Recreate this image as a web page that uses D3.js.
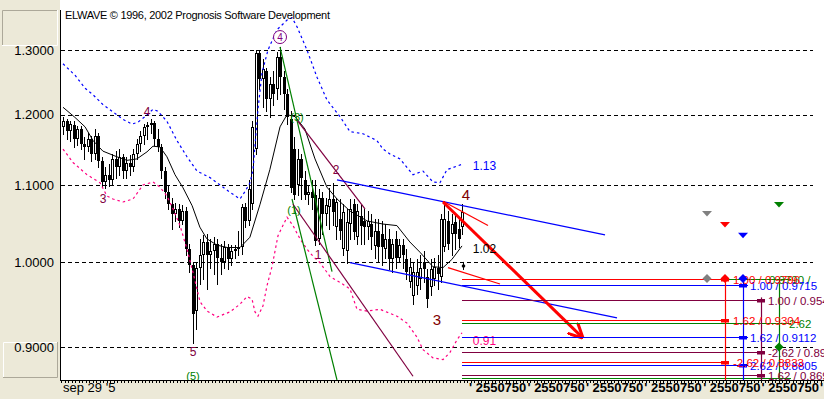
<!DOCTYPE html>
<html><head><meta charset="utf-8">
<script src="https://cdn.jsdelivr.net/npm/d3@7"></script>
<style>
body{margin:0;background:#fff;}
svg{display:block;font-family:"Liberation Sans",Arial,sans-serif;}
</style></head><body>
<svg id="c" width="824" height="399"></svg>
<script>
// ---------------- DATA ----------------
const title = "ELWAVE \u00A9 1996, 2002 Prognosis Software Development";
const yTicks = [0.9, 1.0, 1.1, 1.2, 1.3];
const xTickIdx = [0, 116, 132.7, 149.4, 166.1, 182.9, 199.6, 216.3];
const xTickText = ["sep 29 '5", "' 2550750", "' 2550750", "' 2550750", "' 2550750", "' 2550750", "' 2550750", "' 2"];

const opens = [1.182,1.190,1.176,1.184,1.164,1.179,1.157,1.153,1.164,1.143,
1.169,1.133,1.104,1.113,1.107,1.136,1.124,1.139,1.119,1.130,
1.124,1.143,1.157,1.169,1.182,1.184,1.187,1.164,1.153,1.119,
1.091,1.074,1.061,1.068,1.052,1.065,1.016,0.996,0.941,0.993,
1.009,1.025,1.009,1.013,1.022,1.005,1.000,1.018,1.003,1.013,
1.016,1.018,1.070,1.052,1.074,1.150,1.295,1.254,1.266,1.223,
1.246,1.239,1.289,1.257,1.231,1.193,1.150,1.100,1.136,1.107,
1.087,1.091,1.086,1.029,1.083,1.061,1.070,1.081,1.044,1.055,
1.016,1.013,1.048,1.074,1.031,1.059,1.052,1.044,1.048,1.020,
1.039,1.035,1.016,1.029,1.003,1.029,1.005,1.021,1.003,0.976,
0.959,0.971,0.979,1.000,0.981,0.969,0.979,0.993,0.981,1.018,
1.052,1.035,1.051,1.042,1.044];
const highs = [1.196,1.194,1.190,1.190,1.183,1.183,1.167,1.173,1.169,1.179,
1.173,1.139,1.124,1.129,1.143,1.147,1.150,1.143,1.139,1.141,
1.150,1.164,1.176,1.186,1.189,1.193,1.190,1.179,1.157,1.124,
1.099,1.083,1.075,1.074,1.073,1.070,1.022,1.000,1.000,1.029,
1.034,1.035,1.029,1.031,1.029,1.022,1.026,1.023,1.021,1.021,
1.039,1.074,1.075,1.107,1.190,1.300,1.300,1.285,1.272,1.257,
1.266,1.297,1.305,1.266,1.239,1.205,1.167,1.150,1.143,1.119,
1.100,1.107,1.107,1.094,1.090,1.083,1.096,1.103,1.083,1.081,
1.074,1.068,1.081,1.081,1.074,1.073,1.068,1.065,1.061,1.055,
1.055,1.052,1.048,1.042,1.029,1.039,1.029,1.029,1.016,1.005,
1.000,1.003,1.009,1.013,0.991,1.003,1.005,1.009,1.061,1.078,
1.065,1.061,1.061,1.055,1.074];
const lows = [1.172,1.164,1.162,1.153,1.156,1.150,1.136,1.147,1.133,1.136,
1.124,1.099,1.096,1.099,1.101,1.110,1.113,1.110,1.110,1.113,
1.119,1.136,1.147,1.157,1.164,1.173,1.156,1.147,1.110,1.083,
1.068,1.042,1.052,1.044,1.048,1.009,0.988,0.904,0.920,0.973,
0.979,0.967,0.993,0.985,0.973,0.985,0.993,0.991,0.996,1.005,
1.008,1.010,1.044,1.047,1.068,1.143,1.239,1.211,1.205,1.196,
1.215,1.223,1.231,1.208,1.186,1.091,1.081,1.087,1.081,1.081,
1.074,1.068,1.021,1.022,1.035,1.047,1.042,1.047,1.029,1.029,
1.009,0.999,1.029,1.029,1.022,1.022,1.022,1.029,1.016,1.005,
1.000,0.996,1.005,0.991,0.988,0.993,1.000,0.993,0.979,0.969,
0.949,0.961,0.967,0.976,0.946,0.960,0.972,0.967,0.976,1.013,
1.016,1.009,1.016,1.018,1.035];
const closes = [1.190,1.176,1.186,1.164,1.179,1.157,1.153,1.164,1.143,1.169,
1.133,1.104,1.113,1.107,1.136,1.124,1.139,1.119,1.130,1.124,
1.143,1.157,1.169,1.182,1.184,1.187,1.164,1.153,1.119,1.091,
1.074,1.061,1.068,1.052,1.065,1.016,0.996,0.937,0.993,1.009,
1.025,1.009,1.013,1.022,1.005,1.000,1.018,1.003,1.013,1.016,
1.018,1.070,1.052,1.094,1.182,1.295,1.254,1.269,1.223,1.246,
1.231,1.289,1.257,1.231,1.196,1.096,1.087,1.136,1.110,1.087,
1.091,1.083,1.026,1.083,1.061,1.073,1.081,1.064,1.077,1.039,
1.064,1.051,1.068,1.038,1.065,1.046,1.044,1.052,1.031,1.039,
1.018,1.018,1.029,1.003,1.022,1.005,1.021,1.008,0.988,0.994,
0.987,0.988,0.993,0.991,0.955,0.991,0.994,0.985,1.055,1.055,
1.022,1.048,1.035,1.029,1.064];

// moving average (black)
const maIdx = [0,3.4,6.3,8.6,11.4,15.4,18.3,21.1,24.0,25.7,27.7,29.7,32.0,34.3,36.9,39.1,41.1,44.0,46.9,50.6,53.4,56.3,59.1,62.0,64.0,66.3,69.1,72.0,75.4,78.3,82.0,86.9,91.4,95.4,99.1,102.0,105.7,108.6,111.1,114.0];
const maVal = [1.211,1.196,1.182,1.162,1.147,1.139,1.134,1.136,1.146,1.154,1.153,1.139,1.114,1.096,1.072,1.044,1.029,1.021,1.018,1.018,1.031,1.074,1.121,1.182,1.200,1.197,1.179,1.136,1.097,1.081,1.065,1.052,1.048,1.046,1.025,1.012,0.994,0.993,1.003,1.020];
// upper envelope (blue dotted)
const upIdx = [0,3.43,6.29,8.57,11.43,14.29,17.14,19.71,21.43,23.43,25.71,27.14,29.71,32.57,35.43,38.29,42.0,44.86,47.71,50.57,52.0,53.43,54.29,55.71,56.86,58.57,61.14,64.0,65.43,66.86,69.71,72.57,75.43,79.14,82.0,85.71,89.71,91.43,93.4,96.29,100.0,102.86,105.71,107.71,109.71,112.57,114.29];
const upVal = [1.278,1.260,1.240,1.230,1.215,1.204,1.193,1.186,1.189,1.197,1.208,1.205,1.190,1.162,1.139,1.119,1.110,1.100,1.090,1.081,1.091,1.103,1.121,1.208,1.264,1.300,1.333,1.349,1.353,1.338,1.300,1.257,1.222,1.197,1.175,1.172,1.162,1.150,1.143,1.136,1.114,1.119,1.104,1.103,1.121,1.126,1.129];
// lower envelope (pink dotted)
const loIdx = [0,2.86,6.86,10.57,12.57,14.29,17.14,20.0,22.86,25.71,27.71,29.71,31.43,33.43,35.43,37.14,39.14,41.14,44.0,47.71,50.57,52.57,54.0,54.86,55.71,57.14,58.29,59.71,61.43,64.0,65.71,67.71,69.71,71.43,73.43,76.29,79.14,82.0,84.0,86.86,90.57,95.43,98.29,101.14,102.86,105.71,108.57,110.57,112.57,114.0];
const loVal = [1.150,1.131,1.114,1.103,1.085,1.081,1.077,1.081,1.100,1.104,1.097,1.085,1.068,1.046,1.016,0.987,0.952,0.941,0.934,0.940,0.949,0.958,0.955,0.940,0.935,0.947,0.971,0.994,1.033,1.057,1.046,1.029,1.016,1.007,0.999,0.982,0.975,0.967,0.943,0.941,0.943,0.935,0.927,0.911,0.897,0.888,0.886,0.894,0.908,0.916];

// trend lines [idx1, val1, idx2, val2]
const greenLines = [[62.0,1.305,76.86,0.988],[65.43,1.081,78.29,0.864]];
const maroonLines = [[65.71,1.074,100.0,0.868],[66.86,1.192,86.29,1.068]];
const blueLines = [[78.29,1.107,154.86,1.034],[82.0,0.999,158.29,0.933]];
const redThinLines = [[108.57,1.078,121.43,1.046],[110.0,0.993,124.86,0.973]];
const redArrow = [108.57,1.077,148.29,0.911];

// wave labels
const waveSmallText = ["4","3","5","1","2"];
const waveSmallIdx = [24.0,11.43,37.14,72.86,78.0];
const waveSmallVal = [1.204,1.081,0.8946,1.0087,1.1206];
const waveBigText = ["3","4"];
const waveBigIdx = [106.86,115.14];
const waveBigVal = [0.9307,1.0864];
const circledText = ["(3)","(1)","(5)"];
const circledIdx = [66.86,66.0,37.14];
const circledVal = [1.197,1.0665,0.868];
const circle4 = [62.0,1.321];
const projText = ["1.13","1.02","0.91"];
const projTextVal = [1.126,1.016,0.9068];
const lastMark = [114.3,0.995];

// right-side projections
const levelStartIdx = 114;
const colIdx = {gray:184, red:189.14, blue:194.29, maroon:199.43, green:204.57};
const targetVal = {gray:1.065, red:1.0507, blue:1.0366, green:1.0771};
const diamondVal = 0.9796;
const redLevels = [0.9796,0.9304,0.8833];
const redLabels = ["1.00 / 0.9796","1.62 / 0.9304","-2.62 / 0.8833"];
const blueLevels = [0.9715,0.9112,0.8805];
const blueLabels = ["1.00 / 0.9715","1.62 / 0.9112","2.62 / 0.8805"];
const maroonLevels = [0.954,0.8946,0.8695];
const maroonLabels = ["1.00 / 0.9540","-2.62 / 0.8946","1.62 / 0.8695"];
const greenLevels = [0.9790,0.9273,0.866];
const greenLabels = ["0.9790 /","2.62",""];
const greenDiamondVal = 0.9;

// ---------------- DRAW ----------------
const svg = d3.select('#c');
const x = d3.scaleLinear().domain([0,114]).range([63,462]);
const y = d3.scaleLog().domain([0.9,1.3]).range([347,50]);
const BEIGE = '#ECE9D8';
const MAROON = '#800040';
const C = {red:'#FF0000', blue:'#0000FF', green:'#008000', maroon:MAROON, gray:'#808080'};

svg.append('rect').attr('width',824).attr('height',399).attr('fill','#fff');
svg.append('rect').attr('x',0).attr('y',0).attr('width',60).attr('height',399).attr('fill',BEIGE);
svg.append('rect').attr('x',60).attr('y',381).attr('width',764).attr('height',18).attr('fill',BEIGE);

// left boxes
function box(x0,y0,w,h,tl,br){
  const g=svg.append('g');
  g.append('rect').attr('x',x0).attr('y',y0).attr('width',w).attr('height',h).attr('fill',BEIGE);
  g.append('path').attr('d',`M${x0+0.5},${y0+h}V${y0+0.5}H${x0+w}`).attr('stroke',tl).attr('fill','none');
  g.append('path').attr('d',`M${x0+w-0.5},${y0}V${y0+h-0.5}H${x0}`).attr('stroke',br).attr('fill','none');
}
box(2,10,56,36,'#ACA899','#ffffff');
box(3,342,55,36,'#ffffff','#ACA899');

// clip
svg.append('clipPath').attr('id','pc').append('rect').attr('x',61).attr('y',0).attr('width',763).attr('height',380);
const plot = svg.append('g').attr('clip-path','url(#pc)');

// grid
plot.selectAll('.grid').data(yTicks).enter().append('line')
  .attr('x1',61).attr('x2',813)
  .attr('y1',d=>Math.round(y(d))+0.5).attr('y2',d=>Math.round(y(d))+0.5)
  .attr('stroke','#000').attr('stroke-dasharray','4,3');

// title
svg.append('text').attr('x',65).attr('y',19).attr('font-size',11).attr('fill','#000')
  .attr('textLength',265).attr('lengthAdjust','spacing').text(title);

// candles
const cg = plot.append('g');
opens.forEach((o,i)=>{
  const cx = Math.round(x(i));
  cg.append('line').attr('x1',cx+0.5).attr('x2',cx+0.5)
    .attr('y1',Math.round(y(highs[i]))).attr('y2',Math.round(y(lows[i]))+1)
    .attr('stroke','#000').attr('stroke-width',1);
});
opens.forEach((o,i)=>{
  const c = closes[i];
  const cx = Math.round(x(i));
  const top = Math.round(y(Math.max(o,c)));
  const bot = Math.round(y(Math.min(o,c)));
  const h = Math.max(1,bot-top);
  if(c < o){
    cg.append('rect').attr('x',cx-1).attr('y',top).attr('width',3).attr('height',h).attr('fill','#000');
  } else {
    cg.append('rect').attr('x',cx-0.5).attr('y',top+0.5).attr('width',2).attr('height',Math.max(1,h-1))
      .attr('fill','#fff').attr('stroke','#000').attr('stroke-width',1);
  }
});

// envelopes & MA
const ln = d3.line().x(d=>x(d[0])).y(d=>y(d[1]));
plot.append('path').attr('d',ln(upIdx.map((d,i)=>[d,upVal[i]]))).attr('fill','none')
  .attr('stroke','#0000FF').attr('stroke-width',1.2).attr('stroke-dasharray','2.5,3');
plot.append('path').attr('d',ln(loIdx.map((d,i)=>[d,loVal[i]]))).attr('fill','none')
  .attr('stroke','#FF0080').attr('stroke-width',1.2).attr('stroke-dasharray','2.5,3');
plot.append('path').attr('d',ln(maIdx.map((d,i)=>[d,maVal[i]]))).attr('fill','none')
  .attr('stroke','#000').attr('stroke-width',1);

// trend lines
function seg(arr,color,w){
  arr.forEach(s=>{
    plot.append('line').attr('x1',x(s[0])).attr('y1',y(s[1])).attr('x2',x(s[2])).attr('y2',y(s[3]))
      .attr('stroke',color).attr('stroke-width',w);
  });
}
seg(greenLines,'#008000',1.2);
seg(maroonLines,MAROON,1.2);
seg(blueLines,'#0000FF',1.3);
seg(redThinLines,'#FF0000',1.2);

// arrow
const defs = svg.append('defs');
defs.append('marker').attr('id','ah').attr('viewBox','0 0 10 10').attr('refX',9).attr('refY',5)
  .attr('markerWidth',5).attr('markerHeight',5).attr('orient','auto')
  .append('path').attr('d','M0,0L10,5L0,10').attr('fill','none').attr('stroke','#FF0000').attr('stroke-width',2);
plot.append('line').attr('x1',x(redArrow[0])).attr('y1',y(redArrow[1])).attr('x2',x(redArrow[2])).attr('y2',y(redArrow[3]))
  .attr('stroke','#FF0000').attr('stroke-width',3).attr('marker-end','url(#ah)');

// last price marker
plot.append('line').attr('x1',Math.round(x(lastMark[0]))+0.5).attr('x2',Math.round(x(lastMark[0]))+0.5)
  .attr('y1',y(lastMark[1])-4).attr('y2',y(lastMark[1])+4).attr('stroke','#000');
plot.append('circle').attr('cx',Math.round(x(lastMark[0]))+0.5).attr('cy',y(lastMark[1])).attr('r',1.8).attr('fill','#000');

// wave labels
waveSmallText.forEach((t,i)=>{
  plot.append('text').attr('x',x(waveSmallIdx[i])).attr('y',y(waveSmallVal[i]))
    .attr('text-anchor','middle').attr('dominant-baseline','central')
    .attr('font-size',12).attr('fill',MAROON).text(t);
});
waveBigText.forEach((t,i)=>{
  plot.append('text').attr('x',x(waveBigIdx[i])).attr('y',y(waveBigVal[i]))
    .attr('text-anchor','middle').attr('dominant-baseline','central')
    .attr('font-size',15).attr('fill','#800000').text(t);
});
circledText.forEach((t,i)=>{
  plot.append('text').attr('x',x(circledIdx[i])).attr('y',y(circledVal[i]))
    .attr('text-anchor','middle').attr('dominant-baseline','central')
    .attr('font-size',11).attr('fill','#008000').text(t);
});
plot.append('circle').attr('cx',x(circle4[0])).attr('cy',y(circle4[1])).attr('r',6.5)
  .attr('fill','#fff').attr('stroke','#800080');
plot.append('text').attr('x',x(circle4[0])).attr('y',y(circle4[1])).attr('text-anchor','middle')
  .attr('dominant-baseline','central').attr('font-size',10).attr('fill','#800080').text('4');

const projColors = ['#0000FF','#000000','#FF0080'];
projText.forEach((t,i)=>{
  plot.append('text').attr('x',x(117.1)).attr('y',y(projTextVal[i])).attr('dominant-baseline','central')
    .attr('font-size',12).attr('fill',projColors[i]).text(t);
});

// right side projection levels
const x0 = x(levelStartIdx);
function levels(vals,name,endOff,markW){
  const col = x(colIdx[name]);
  vals.forEach((v,i)=>{
    const yy = Math.round(y(v))+0.5;
    plot.append('line').attr('x1',x0).attr('x2',col+endOff).attr('y1',yy).attr('y2',yy)
      .attr('stroke',C[name]).attr('stroke-width',1.2);
    if(markW) plot.append('rect').attr('x',col-markW/2).attr('y',yy-1.5).attr('width',markW).attr('height',3.5).attr('fill',C[name]);
  });
}
function levelLabels(vals,labels,name,offs){
  const col = x(colIdx[name]);
  vals.forEach((v,i)=>{
    if(!labels[i]) return;
    plot.append('text').attr('x',col+offs[i]).attr('y',Math.round(y(v))+0.5).attr('dominant-baseline','central')
      .attr('font-size',11.5).attr('fill',C[name]).text(labels[i]);
  });
}
levels(greenLevels,'green',12,0);
levels(maroonLevels,'maroon',4,8);
levels(blueLevels,'blue',5,8);
levels(redLevels,'red',3,8);

// vertical projection lines
[['red',redLevels[0]],['blue',diamondVal],['maroon',maroonLevels[0]+0.003],['green',greenLevels[0]]].forEach(([n,v])=>{
  const cx = Math.round(x(colIdx[n]))+0.5;
  plot.append('line').attr('x1',cx).attr('x2',cx).attr('y1',y(v)).attr('y2',381).attr('stroke',C[n]).attr('stroke-width',1.2);
});

// labels
levelLabels(greenLevels,greenLabels,'green',[-10,10,0]);
levelLabels(maroonLevels,maroonLabels,'maroon',[7,7,7]);
levelLabels(blueLevels,blueLabels,'blue',[7,7,7]);
levelLabels(redLevels,redLabels,'red',[8,8,8]);

// diamonds
function diamond(cx,cy,r,color){
  plot.append('path').attr('d',`M${cx},${cy-r}L${cx+r},${cy}L${cx},${cy+r}L${cx-r},${cy}Z`).attr('fill',color);
}
['gray','red','blue'].forEach(n=>diamond(x(colIdx[n]),y(diamondVal),4.5,C[n]));
diamond(x(colIdx.green),y(greenDiamondVal),4.5,C.green);

// target triangles
['gray','red','blue','green'].forEach(n=>{
  const cx=x(colIdx[n]), ty=y(targetVal[n]);
  plot.append('path').attr('d',`M${cx-5},${ty}L${cx+5},${ty}L${cx},${ty+5.5}Z`).attr('fill',C[n]);
});

// axes
svg.append('line').attr('x1',60.5).attr('x2',60.5).attr('y1',10).attr('y2',381).attr('stroke','#000');
svg.append('line').attr('x1',60).attr('x2',824).attr('y1',380.5).attr('y2',380.5).attr('stroke','#000');

const yAxis = d3.axisLeft(y).tickValues(yTicks).tickFormat(d3.format('.4f')).tickSize(0).tickPadding(6);
const ya = svg.append('g').attr('transform','translate(60,0)').call(yAxis);
ya.select('.domain').remove();
ya.selectAll('text').attr('font-size',13).attr('font-family','"Liberation Sans",Arial,sans-serif').attr('fill','#000');

const xr = x.copy().interpolate(d3.interpolateRound);
const xAxis = d3.axisBottom(xr).tickValues(d3.range(-0.5,218,1)).tickSize(3).tickSizeOuter(0).tickFormat('');
const xa = svg.append('g').attr('transform','translate(0,380)').call(xAxis);
xa.select('.domain').remove();
xa.selectAll('.tick line').attr('stroke','#000');

xTickIdx.forEach((d,i)=>{
  svg.append('text').attr('x',x(d)).attr('y',392).attr('font-size',13)
    .attr('font-weight',i===0?'normal':'bold').attr('fill','#000').text(xTickText[i]);
});
</script>
</body></html>
